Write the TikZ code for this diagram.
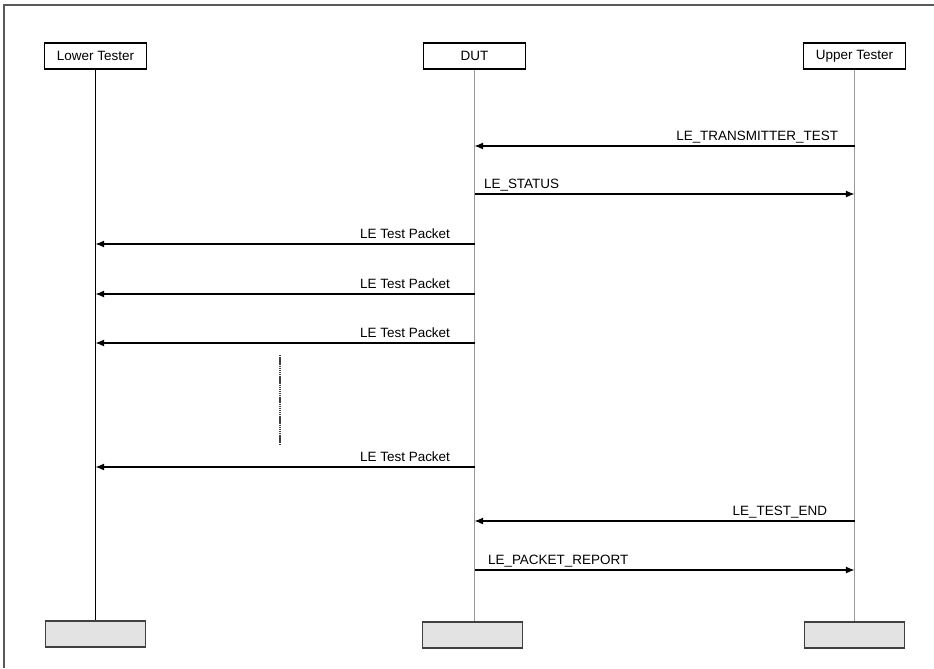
\documentclass[tikz,border=0pt]{standalone}
\usepackage{fontspec}
\setmainfont{Liberation Sans}
\usetikzlibrary{arrows.meta}

\tikzset{
  head/.style={draw, line width=0.9pt, fill=white, inner sep=0pt,
    minimum width=3.06cm, minimum height=0.78cm,
    font=\fontsize{11.5}{13}\selectfont},
  foot/.style={draw=black!75, line width=1.1pt, fill=black!11, inner sep=0pt,
    minimum width=3.0cm, minimum height=0.78cm},
  life/.style={line width=0.9pt},
  msg/.style={line width=0.9pt, -{Latex[length=2.6mm,width=2.1mm]}},
  lbl/.style={font=\fontsize{11.5}{13}\selectfont, inner sep=0pt, anchor=base east, yshift=0.17cm},
  lblr/.style={lbl, anchor=base west}
}

\begin{document}
\begin{tikzpicture}[x=0.03cm, y=-0.03cm]
  \useasboundingbox (0,0) rectangle (934,668);
  % frame
  \draw[black!65, line width=1.2pt] (934,5) -- (4,5) -- (4,668);

  % heads
  \node[head] (lt) at (95.5,56) {Lower Tester};
  \node[head] (dut) at (474.5,56) {DUT};
  \node[head] (ut) at (854.5,56) {Upper Tester};

  % feet
  \node[foot] (ltf) at (95.5,634) {};
  \node[foot] (dutf) at (472.5,635) {};
  \node[foot] (utf) at (854.5,635) {};

  % lifelines
  \draw[life] (lt) -- (ltf);
  \draw[life, black!40, line width=1.2pt] (dut) -- (dut |- dutf.north);
  \draw[life, black!40] (ut) -- (utf);

  % message rows
  \coordinate (m1) at (0,146);
  \coordinate (m2) at (0,194);
  \coordinate (m3) at (0,244);
  \coordinate (m4) at (0,294);
  \coordinate (m5) at (0,343);
  \coordinate (m6) at (0,467);
  \coordinate (m7) at (0,521);
  \coordinate (m8) at (0,570);

  \draw[msg] (ut |- m1) -- (dut |- m1)
    node[lbl, at start, xshift=-0.48cm] {LE\_TRANSMITTER\_TEST};
  \draw[msg] (dut |- m2) -- (ut |- m2)
    node[lblr, at start, xshift=0.27cm] {LE\_STATUS};
  \foreach \m in {m3,m4,m5,m6}
    \draw[msg] (dut |- \m) -- (lt |- \m)
      node[lbl, at start, xshift=-0.72cm] {LE Test Packet};
  \draw[msg] (ut |- m7) -- (dut |- m7)
    node[lbl, at start, xshift=-0.81cm] {LE\_TEST\_END};
  \draw[msg] (dut |- m8) -- (ut |- m8)
    node[lblr, at start, xshift=0.39cm] {LE\_PACKET\_REPORT};

  % gap marker
  \coordinate (g1) at (280,355);
  \coordinate (g2) at (280,445);
  \draw[black!75, line width=1pt, dash pattern=on 1.2pt off 0.6pt] (g1) -- (g2);
\end{tikzpicture}
\end{document}
